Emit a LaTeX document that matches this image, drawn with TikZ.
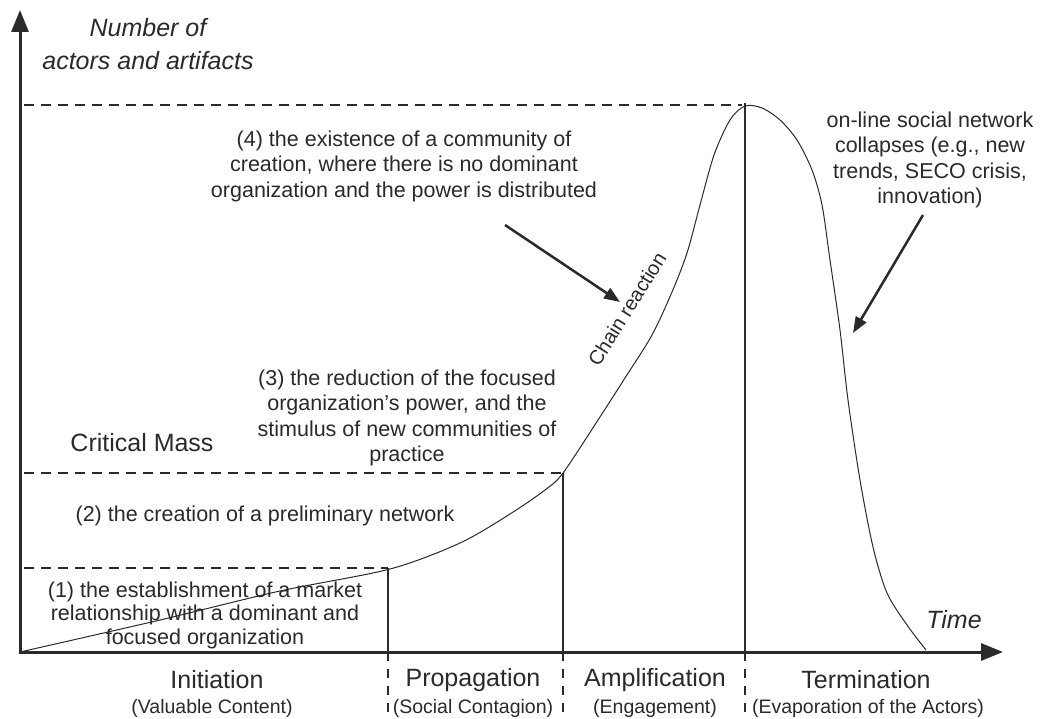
\documentclass[tikz,border=0pt]{standalone}
\usepackage{fontspec}
\setmainfont{Liberation Sans}
\usetikzlibrary{arrows.meta}
\definecolor{ink}{HTML}{2A2A2A}
\begin{document}
\begin{tikzpicture}[x=1pt,y=-1pt,
  axis/.style={line width=3pt, draw=ink, -{Triangle[length=22pt,width=17pt]}},
  guide/.style={line width=2pt, draw=ink, dash pattern=on 10pt off 7pt},
  lowguide/.style={line width=1.6pt, draw=ink, dash pattern=on 9pt off 8pt},
  divider/.style={line width=2pt, draw=ink},
  pointer/.style={line width=2.5pt, draw=ink, -{Triangle[length=16pt,width=12pt]}},
  curve/.style={line width=1pt, draw=ink},
  body/.style={font=\fontsize{21.5}{25.5}\selectfont, text=ink, align=center, inner sep=0pt},
  phase/.style={font=\fontsize{25}{28}\selectfont, text=ink, inner sep=0pt},
  sub/.style={font=\fontsize{19.5}{22}\selectfont, text=ink, inner sep=0pt},
  axlabel/.style={font=\fontsize{25}{33}\selectfont\itshape, text=ink, align=center, inner sep=0pt},
]
\useasboundingbox (0,0) rectangle (1040,719);
\fill[white] (0,0) rectangle (1040,719);

% axes
\coordinate (O) at (20,654);
\coordinate (Ytop) at (20,10);
\coordinate (Xend) at (1003,652);
\draw[axis] (O) -- (Ytop);
\draw[axis] (18.5,652) -- (Xend);

% horizontal guides
\coordinate (h4a) at (24,105);  \coordinate (h4b) at (742,105);
\coordinate (h3a) at (24,473);  \coordinate (h3b) at (563,473);
\coordinate (h1a) at (24,568);  \coordinate (h1b) at (388,568);
\draw[guide] (h4a) -- (h4b);
\draw[guide] (h3a) -- (h3b);
\draw[guide] (h1a) -- (h1b);

% phase dividers
\coordinate (d1t) at (388,568); \coordinate (d1b) at (388,652); \coordinate (d1e) at (388,718);
\coordinate (d2t) at (563,473); \coordinate (d2b) at (563,652); \coordinate (d2e) at (563,718);
\coordinate (d3t) at (745,103); \coordinate (d3b) at (745,652); \coordinate (d3e) at (745,718);
\draw[divider] (d1t) -- (d1b);
\draw[divider] (d2t) -- (d2b);
\draw[divider] (d3t) -- (d3b);
\draw[lowguide] (d1b) -- (d1e);
\draw[lowguide] (d2b) -- (d2e);
\draw[lowguide] (d3b) -- (d3e);

% life curve
\draw[curve] plot[smooth, tension=0.5] coordinates {(20,652) (160,620) (280,591) (390,569) (460,543) (510,514) (545,490) (563,473) (598,420) (625,378) (652,335) (672,292) (687,253) (700,205) (714,155) (730,120) (745,106) (762,108) (780,120) (797,140) (812,170) (822,205) (830,260) (840,330) (848,400) (860,480) (873,547) (887,593) (907,625) (926,650)};

% text
\node[axlabel] (ylab) at (148,44) {Number of\\actors and artifacts};
\node[body] (s4) at (404,166) {(4) the existence of a community of\\creation, where there is no dominant\\organization and the power is distributed};
\node[body] (coll) at (930,160) {on-line social network\\collapses (e.g., new\\trends, SECO crisis,\\innovation)};
\node[body] (s3) at (407,418) {(3) the reduction of the focused\\organization's power, and the\\stimulus of new communities of\\practice};
\node[phase] (cm) at (142,443) {Critical Mass};
\node[body] (s2) at (265,516) {(2) the creation of a preliminary network};
\node[body, font=\fontsize{21.5}{23.5}\selectfont] (s1) at (205,615) {(1) the establishment of a market\\relationship with a dominant and\\focused organization};
\node[axlabel] (time) at (954,620) {Time};
\node[body, rotate=58, font=\fontsize{20}{24}\selectfont] (chain) at (627,309) {Chain reaction};

% pointers
\coordinate (p4s) at (505,225); \coordinate (p4e) at (620,302);
\coordinate (pcs) at (923,215); \coordinate (pce) at (853,333);
\draw[pointer] (p4s) -- (p4e);
\draw[pointer] (pcs) -- (pce);

% phases
\node[phase] (ph1) at (217,680) {Initiation};
\node[sub] (ph1s) at (212,708) {(Valuable Content)};
\node[phase] (ph2) at (473,680) {Propagation};
\node[sub] (ph2s) at (473,708) {(Social Contagion)};
\node[phase] (ph3) at (655,680) {Amplification};
\node[sub] (ph3s) at (655,708) {(Engagement)};
\node[phase] (ph4) at (866,680) {Termination};
\node[sub] (ph4s) at (868,708) {(Evaporation of the Actors)};
\end{tikzpicture}
\end{document}
